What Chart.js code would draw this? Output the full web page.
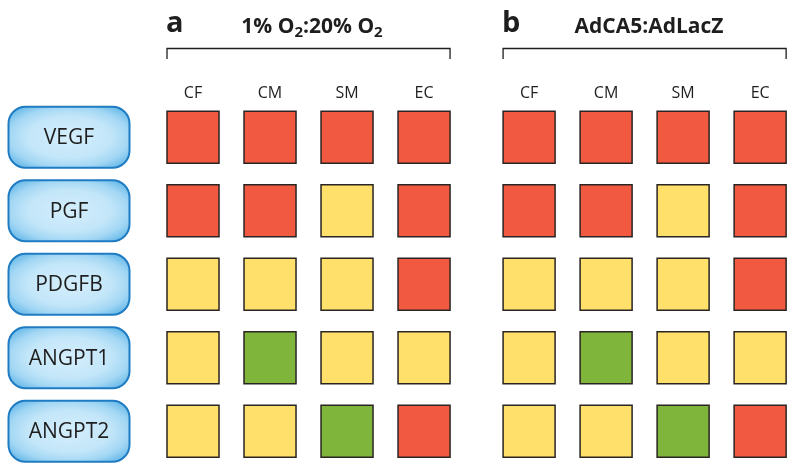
<!DOCTYPE html>
<html>
<head>
<meta charset="utf-8">
<script src="https://cdn.jsdelivr.net/npm/chart.js@4.4.0/dist/chart.umd.min.js"></script>
<style>
  html, body { margin: 0; padding: 0; background: #fff; }
  #wrap { width: 795px; height: 471px; }
</style>
</head>
<body>
<div id="wrap"><canvas id="chart"></canvas></div>
<script>
// genes (rows) and cell types (columns)
const genes = ["VEGF", "PGF", "PDGFB", "ANGPT1", "ANGPT2"];
const cellTypes = ["CF", "CM", "SM", "EC"];
const panelLetters = ["a", "b"];
// title pieces: [text, isSubscript]
const panelTitles = [
  [["1% O", 0], ["2", 1], [":20% O", 0], ["2", 1]],
  [["AdCA5:AdLacZ", 0]]
];
// 1 = increased, 0 = unchanged, -1 = decreased
const hypoxiaChange = [
  [1, 1, 1, 1],
  [1, 1, 0, 1],
  [0, 0, 0, 1],
  [0, -1, 0, 0],
  [0, 0, -1, 1]
];
const adca5Change = [
  [1, 1, 1, 1],
  [1, 1, 0, 1],
  [0, 0, 0, 1],
  [0, -1, 0, 0],
  [0, 0, -1, 1]
];
const panelValues = [hypoxiaChange, adca5Change];

const changeColors = { "1": "#f15a40", "0": "#fee06b", "-1": "#7fb53a" };
const panelStride = 4.364; // column units between panel starts
const squareSide = 52;
const FONT = "'Open Sans', 'Noto Sans', sans-serif";

const datasets = panelValues.map((vals, p) => {
  const pts = [];
  vals.forEach((row, r) => row.forEach((v, c) => {
    pts.push({ x: c + p * panelStride, y: genes[r], v: v });
  }));
  return {
    label: panelLetters[p],
    data: pts,
    clip: false,
    pointStyle: "rect",
    pointRadius: squareSide / Math.SQRT2,
    pointHoverRadius: squareSide / Math.SQRT2,
    borderWidth: 1.5,
    borderColor: "#2a2422",
    backgroundColor: ctx => changeColors[String(ctx.raw ? ctx.raw.v : 0)],
    showLine: false
  };
});

const colPositions = [];
panelLetters.forEach((_, p) => cellTypes.forEach((_, c) => colPositions.push(c + p * panelStride)));

function roundRect(ctx, x, y, w, h, r) {
  ctx.beginPath();
  ctx.moveTo(x + r, y);
  ctx.arcTo(x + w, y, x + w, y + h, r);
  ctx.arcTo(x + w, y + h, x, y + h, r);
  ctx.arcTo(x, y + h, x, y, r);
  ctx.arcTo(x, y, x + w, y, r);
  ctx.closePath();
}

const decorations = {
  id: "decorations",
  afterDraw(chart) {
    const ctx = chart.ctx;
    const xs = chart.scales.x, ys = chart.scales.y;
    ctx.save();
    // gene boxes
    genes.forEach((g, i) => {
      const cy = ys.getPixelForValue(i);
      const bx = 8.5, bw = 121, bh = 61, by = cy - bh / 2;
      roundRect(ctx, bx, by, bw, bh, 17);
      ctx.save();
      ctx.clip();
      const cx = bx + bw / 2;
      ctx.translate(cx, cy);
      ctx.scale(1, bh / bw);
      const grad = ctx.createRadialGradient(0, 0, 0, 0, 0, bw * 0.62);
      grad.addColorStop(0, "#d4eefc");
      grad.addColorStop(0.55, "#c3e6f9");
      grad.addColorStop(0.8, "#a3d7f4");
      grad.addColorStop(1, "#6dbcea");
      ctx.fillStyle = grad;
      ctx.fillRect(-bw, -bw, bw * 2, bw * 2);
      ctx.restore();
      roundRect(ctx, bx, by, bw, bh, 17);
      ctx.lineWidth = 2;
      ctx.strokeStyle = "#1f7cc2";
      ctx.stroke();
      ctx.fillStyle = "#1e1e1e";
      ctx.font = "21px " + FONT;
      ctx.textAlign = "center";
      ctx.textBaseline = "middle";
      ctx.fillText(g, cx, cy + 1);
    });
    // panel letters, titles and brackets
    panelLetters.forEach((letter, p) => {
      const left = xs.getPixelForValue(p * panelStride) - squareSide / 2;
      const right = xs.getPixelForValue(cellTypes.length - 1 + p * panelStride) + squareSide / 2;
      ctx.strokeStyle = "#1e1e1e";
      ctx.lineWidth = 1.3;
      ctx.beginPath();
      ctx.moveTo(left, 59);
      ctx.lineTo(left, 48.5);
      ctx.lineTo(right, 48.5);
      ctx.lineTo(right, 59);
      ctx.stroke();

      ctx.fillStyle = "#1e1e1e";
      ctx.textAlign = "left";
      ctx.textBaseline = "alphabetic";
      ctx.font = "bold 29px " + FONT;
      ctx.fillText(letter, left - 1, 32);

      const pieces = panelTitles[p];
      const mainFont = "bold 21px " + FONT, subFont = "bold 15px " + FONT;
      let total = 0;
      pieces.forEach(([t, sub]) => { ctx.font = sub ? subFont : mainFont; total += ctx.measureText(t).width; });
      const center = p === 0 ? 312 : 649;
      let x = center - total / 2;
      pieces.forEach(([t, sub]) => {
        ctx.font = sub ? subFont : mainFont;
        ctx.fillText(t, x, sub ? 37 : 33);
        x += ctx.measureText(t).width;
      });
    });
    ctx.restore();
  }
};

new Chart(document.getElementById("chart"), {
  type: "scatter",
  data: { datasets: datasets },
  plugins: [decorations],
  options: {
    responsive: true,
    maintainAspectRatio: false,
    animation: false,
    events: [],
    layout: { autoPadding: false, padding: { top: 0, right: 9, bottom: 3, left: 0 } },
    plugins: { legend: { display: false }, tooltip: { enabled: false } },
    scales: {
      x: {
        type: "linear",
        position: "top",
        min: -0.4,
        max: 7.7,
        afterBuildTicks: scale => { scale.ticks = colPositions.map(v => ({ value: v })); },
        afterFit: scale => { scale.height = 100.5; },
        grid: { display: false, drawTicks: false },
        border: { display: false },
        ticks: {
          padding: -3,
          color: "#1e1e1e",
          font: { family: FONT, size: 16 },
          maxRotation: 0,
          autoSkip: false,
          callback: (v, i) => cellTypes[i % cellTypes.length]
        }
      },
      y: {
        type: "category",
        labels: genes,
        offset: true,
        afterFit: scale => { scale.width = 162.2; },
        grid: { display: false, drawTicks: false },
        border: { display: false },
        ticks: { display: false }
      }
    }
  }
});
</script>
</body>
</html>
